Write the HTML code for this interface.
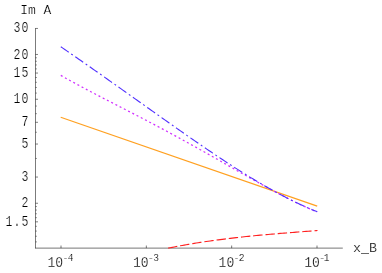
<!DOCTYPE html>
<html><head><meta charset="utf-8"><title>plot</title>
<style>html,body{margin:0;padding:0;background:#fff;width:382px;height:273px;overflow:hidden}</style>
</head><body>
<svg width="382" height="273" viewBox="0 0 382 273" style="position:absolute;left:0;top:0;will-change:transform">
<rect width="382" height="273" fill="#fff"/>
<g stroke="#000" stroke-width="0.52" fill="none">
<path d="M35.5 28.1 V248.38"/>
<path d="M35.24 248.12 H342.8" stroke-width="0.54"/>
<path d="M35.5 28.45 h2.5" stroke-width="0.5"/>
<path d="M35.5 54.46 h2.5" stroke-width="0.5"/>
<path d="M35.5 73.05 h2.5" stroke-width="0.5"/>
<path d="M35.5 99.25 h2.5" stroke-width="0.5"/>
<path d="M35.5 122.30 h2.5" stroke-width="0.5"/>
<path d="M35.5 144.04 h2.5" stroke-width="0.5"/>
<path d="M35.5 177.05 h2.5" stroke-width="0.5"/>
<path d="M35.5 203.25 h2.5" stroke-width="0.5"/>
<path d="M35.5 221.84 h2.5" stroke-width="0.5"/>
<path d="M35.5 57.77 h1.4" stroke-width="0.45"/>
<path d="M35.5 61.27 h1.4" stroke-width="0.45"/>
<path d="M35.5 64.96 h1.4" stroke-width="0.45"/>
<path d="M35.5 68.88 h1.4" stroke-width="0.45"/>
<path d="M35.5 77.51 h1.4" stroke-width="0.45"/>
<path d="M35.5 82.30 h1.4" stroke-width="0.45"/>
<path d="M35.5 87.47 h1.4" stroke-width="0.45"/>
<path d="M35.5 93.09 h1.4" stroke-width="0.45"/>
<path d="M35.5 106.06 h1.4" stroke-width="0.45"/>
<path d="M35.5 113.67 h1.4" stroke-width="0.45"/>
<path d="M35.5 132.26 h1.4" stroke-width="0.45"/>
<path d="M35.5 158.46 h1.4" stroke-width="0.45"/>
<path d="M35.5 206.56 h1.4" stroke-width="0.45"/>
<path d="M35.5 210.06 h1.4" stroke-width="0.45"/>
<path d="M35.5 213.75 h1.4" stroke-width="0.45"/>
<path d="M35.5 217.67 h1.4" stroke-width="0.45"/>
<path d="M35.5 226.30 h1.4" stroke-width="0.45"/>
<path d="M35.5 231.09 h1.4" stroke-width="0.45"/>
<path d="M35.5 236.26 h1.4" stroke-width="0.45"/>
<path d="M35.5 241.88 h1.4" stroke-width="0.45"/>
<path d="M61.0 248.12 v-2.6"/>
<path d="M146.33 248.12 v-2.6"/>
<path d="M231.67 248.12 v-2.6"/>
<path d="M317.0 248.12 v-2.6"/>
</g>
<path d="M60.70 117.20 L317.20 206.10" stroke="#ffa020" stroke-width="1.2" fill="none"/>
<path d="M168.20 248.15 L170.20 247.75 L172.20 247.34 L174.20 246.95 L176.20 246.56 L178.20 246.18 L180.20 245.81 L182.20 245.44 L184.20 245.08 L186.20 244.72 L188.20 244.38 L190.20 244.03 L192.20 243.70 L194.20 243.37 L196.20 243.04 L198.20 242.73 L200.20 242.41 L202.20 242.11 L204.20 241.80 L206.20 241.51 L208.20 241.22 L210.20 240.93 L212.20 240.65 L214.20 240.37 L216.20 240.10 L218.20 239.84 L220.20 239.58 L222.20 239.32 L224.20 239.07 L226.20 238.82 L228.20 238.57 L230.20 238.34 L232.20 238.10 L234.20 237.87 L236.20 237.64 L238.20 237.42 L240.20 237.20 L242.20 236.98 L244.20 236.77 L246.20 236.56 L248.20 236.35 L250.20 236.15 L252.20 235.95 L254.20 235.76 L256.20 235.56 L258.20 235.37 L260.20 235.18 L262.20 235.00 L264.20 234.82 L266.20 234.64 L268.20 234.46 L270.20 234.28 L272.20 234.11 L274.20 233.94 L276.20 233.77 L278.20 233.60 L280.20 233.43 L282.20 233.27 L284.20 233.11 L286.20 232.95 L288.20 232.79 L290.20 232.63 L292.20 232.47 L294.20 232.32 L296.20 232.16 L298.20 232.01 L300.20 231.85 L302.20 231.70 L304.20 231.55 L306.20 231.40 L308.20 231.25 L310.20 231.09 L312.20 230.94 L314.20 230.79 L316.20 230.64 L317.50 230.54" stroke="#ff2020" stroke-width="1.12" fill="none" stroke-dasharray="9.4 2.9" stroke-dashoffset="0.17"/>
<path d="M60.80 75.36 L62.80 76.50 L64.80 77.63 L66.80 78.75 L68.80 79.86 L70.80 80.97 L72.80 82.07 L74.80 83.16 L76.80 84.24 L78.80 85.32 L80.80 86.40 L82.80 87.47 L84.80 88.53 L86.80 89.59 L88.80 90.65 L90.80 91.70 L92.80 92.74 L94.80 93.79 L96.80 94.83 L98.80 95.87 L100.80 96.91 L102.80 97.94 L104.80 98.98 L106.80 100.01 L108.80 101.04 L110.80 102.07 L112.80 103.10 L114.80 104.13 L116.80 105.15 L118.80 106.18 L120.80 107.21 L122.80 108.24 L124.80 109.27 L126.80 110.30 L128.80 111.33 L130.80 112.36 L132.80 113.40 L134.80 114.43 L136.80 115.47 L138.80 116.51 L140.80 117.55 L142.80 118.59 L144.80 119.63 L146.80 120.68 L148.80 121.73 L150.80 122.78 L152.80 123.83 L154.80 124.89 L156.80 125.95 L158.80 127.01 L160.80 128.08 L162.80 129.15 L164.80 130.22 L166.80 131.29 L168.80 132.37 L170.80 133.45 L172.80 134.53 L174.80 135.61 L176.80 136.70 L178.80 137.80 L180.80 138.89 L182.80 139.99 L184.80 141.09 L186.80 142.19 L188.80 143.30 L190.80 144.41 L192.80 145.52 L194.80 146.63 L196.80 147.75 L198.80 148.87 L200.80 149.99 L202.80 151.12 L204.80 152.24 L206.80 153.37 L208.80 154.50 L210.80 155.63 L212.80 156.77 L214.80 157.90 L216.80 159.04 L218.80 160.18 L220.80 161.32 L222.80 162.46 L224.80 163.60 L226.80 164.74 L228.80 165.88 L230.80 167.02 L232.80 168.16 L234.80 169.30 L236.80 170.44 L238.80 171.58 L240.80 172.72 L242.80 173.85 L244.80 174.99 L246.80 176.12 L248.80 177.25 L250.80 178.38 L252.80 179.50 L254.80 180.62 L256.80 181.74 L258.80 182.85 L260.80 183.96 L262.80 185.07 L264.80 186.17 L266.80 187.27 L268.80 188.36 L270.80 189.44 L272.80 190.52 L274.80 191.59 L276.80 192.66 L278.80 193.71 L280.80 194.76 L282.80 195.80 L284.80 196.84 L286.80 197.86 L288.80 198.87 L290.80 199.88 L292.80 200.87 L294.80 201.85 L296.80 202.82 L298.80 203.78 L300.80 204.73 L302.80 205.66 L304.80 206.59 L306.80 207.49 L308.80 208.39 L310.80 209.26 L312.80 210.13 L314.80 210.97 L316.80 211.80 L317.20 211.97" stroke="#d030ff" stroke-width="1.25" fill="none" stroke-dasharray="2 2.76"/>
<path d="M60.80 46.76 L62.80 48.13 L64.80 49.51 L66.80 50.88 L68.80 52.26 L70.80 53.64 L72.80 55.03 L74.80 56.41 L76.80 57.80 L78.80 59.18 L80.80 60.57 L82.80 61.96 L84.80 63.36 L86.80 64.75 L88.80 66.15 L90.80 67.54 L92.80 68.94 L94.80 70.34 L96.80 71.75 L98.80 73.15 L100.80 74.55 L102.80 75.96 L104.80 77.37 L106.80 78.78 L108.80 80.19 L110.80 81.60 L112.80 83.01 L114.80 84.42 L116.80 85.84 L118.80 87.25 L120.80 88.67 L122.80 90.09 L124.80 91.50 L126.80 92.92 L128.80 94.34 L130.80 95.76 L132.80 97.18 L134.80 98.60 L136.80 100.02 L138.80 101.44 L140.80 102.86 L142.80 104.28 L144.80 105.70 L146.80 107.13 L148.80 108.55 L150.80 109.97 L152.80 111.39 L154.80 112.81 L156.80 114.22 L158.80 115.64 L160.80 117.06 L162.80 118.47 L164.80 119.89 L166.80 121.30 L168.80 122.72 L170.80 124.13 L172.80 125.54 L174.80 126.94 L176.80 128.35 L178.80 129.75 L180.80 131.15 L182.80 132.55 L184.80 133.95 L186.80 135.34 L188.80 136.73 L190.80 138.12 L192.80 139.51 L194.80 140.89 L196.80 142.27 L198.80 143.65 L200.80 145.02 L202.80 146.39 L204.80 147.75 L206.80 149.11 L208.80 150.47 L210.80 151.82 L212.80 153.16 L214.80 154.51 L216.80 155.84 L218.80 157.17 L220.80 158.50 L222.80 159.82 L224.80 161.14 L226.80 162.45 L228.80 163.75 L230.80 165.05 L232.80 166.34 L234.80 167.62 L236.80 168.89 L238.80 170.16 L240.80 171.43 L242.80 172.68 L244.80 173.93 L246.80 175.16 L248.80 176.39 L250.80 177.62 L252.80 178.83 L254.80 180.03 L256.80 181.23 L258.80 182.41 L260.80 183.59 L262.80 184.76 L264.80 185.91 L266.80 187.06 L268.80 188.19 L270.80 189.32 L272.80 190.43 L274.80 191.53 L276.80 192.62 L278.80 193.70 L280.80 194.77 L282.80 195.82 L284.80 196.86 L286.80 197.89 L288.80 198.91 L290.80 199.91 L292.80 200.90 L294.80 201.87 L296.80 202.83 L298.80 203.78 L300.80 204.71 L302.80 205.62 L304.80 206.52 L306.80 207.41 L308.80 208.28 L310.80 209.13 L312.80 209.96 L314.80 210.78 L316.80 211.58 L317.20 211.74" stroke="#5030ff" stroke-width="1.1" fill="none" stroke-dasharray="9.6 3.05 1.9 3.05"/>
<g font-family="'Liberation Mono', monospace" font-size="13.33px" fill="#000" stroke="#fff" stroke-width="0.24">
<text transform="translate(29.4 32.36) scale(0.87 1.03)" text-anchor="end" letter-spacing="1.15">30</text>
<text transform="translate(29.4 59.16) scale(0.87 1.03)" text-anchor="end" letter-spacing="1.15">20</text>
<text transform="translate(29.4 77.25) scale(0.87 1.03)" text-anchor="end" letter-spacing="1.15">15</text>
<text transform="translate(29.4 102.85) scale(0.87 1.03)" text-anchor="end" letter-spacing="1.15">10</text>
<text transform="translate(29.4 125.90) scale(0.87 1.03)" text-anchor="end" letter-spacing="1.15">7</text>
<text transform="translate(29.4 147.84) scale(0.87 1.03)" text-anchor="end" letter-spacing="1.15">5</text>
<text transform="translate(29.4 180.85) scale(0.87 1.03)" text-anchor="end" letter-spacing="1.15">3</text>
<text transform="translate(29.4 207.45) scale(0.87 1.03)" text-anchor="end" letter-spacing="1.15">2</text>
<text transform="translate(29.4 225.99) scale(0.87 1.03)" text-anchor="end" letter-spacing="1.15">1.5</text>
<text transform="translate(20.2 13.6) scale(0.975 1)">Im A</text>
<text x="365" y="251.6" text-anchor="middle">x<tspan stroke-width="0.05">_</tspan>B</text>
<text transform="translate(47.50 267.3) scale(0.98 1.05)">10<tspan font-size="9.8px" dx="-0.7" dy="-6.3" stroke-width="0.15" letter-spacing="-0.5">-4</tspan></text>
<text transform="translate(133.00 267.3) scale(0.98 1.05)">10<tspan font-size="9.8px" dx="-0.7" dy="-6.3" stroke-width="0.15" letter-spacing="-0.5">-3</tspan></text>
<text transform="translate(218.60 267.3) scale(0.98 1.05)">10<tspan font-size="9.8px" dx="-0.7" dy="-6.3" stroke-width="0.15" letter-spacing="-0.5">-2</tspan></text>
<text transform="translate(304.20 267.3) scale(0.98 1.05)">10<tspan font-size="9.8px" dx="-0.7" dy="-6.3" stroke-width="0.15" letter-spacing="-1.3">-1</tspan></text>
</g>
</svg>
</body></html>
